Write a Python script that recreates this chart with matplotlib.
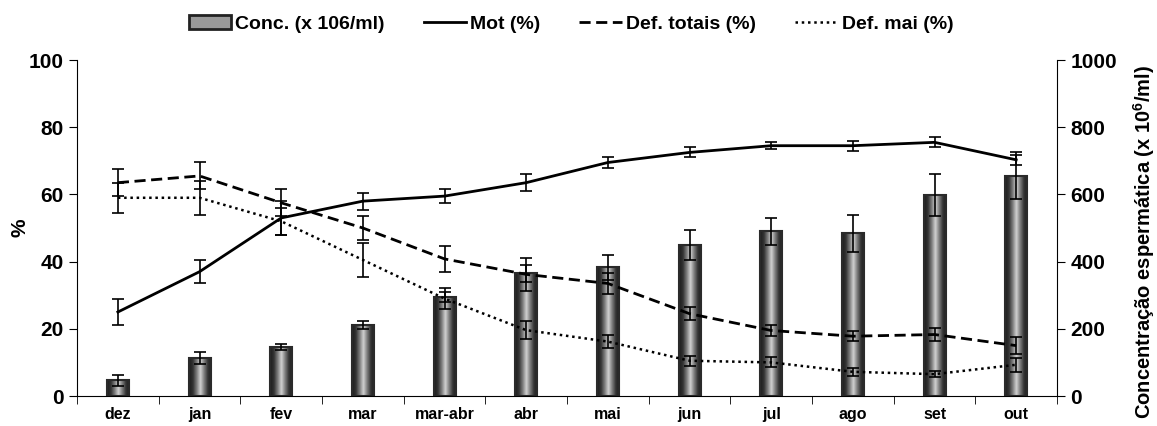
import numpy as np
import matplotlib
matplotlib.use('Agg')
import matplotlib.pyplot as plt
from matplotlib.colors import LinearSegmentedColormap
from matplotlib.patches import Rectangle
from matplotlib.lines import Line2D

plt.rcParams['font.family'] = ['Liberation Sans', 'DejaVu Sans']
plt.rcParams['font.weight'] = 'bold'
plt.rcParams['mathtext.fontset'] = 'custom'
plt.rcParams['mathtext.rm'] = 'Liberation Sans'
plt.rcParams['mathtext.bf'] = 'Liberation Sans:bold'

months = ['dez', 'jan', 'fev', 'mar', 'mar-abr', 'abr', 'mai',
          'jun', 'jul', 'ago', 'set', 'out']

conc = [47, 113, 146, 211, 295, 365, 383, 450, 490, 484, 598, 655]
conc_err = [17, 17, 10, 12, 15, 25, 37, 45, 40, 55, 63, 70]

mot = [25, 37, 53, 58, 59.5, 63.5, 69.5, 72.5, 74.5, 74.5, 75.5, 70.3]
mot_err = [4, 3.5, 5, 2.5, 2, 2.5, 1.5, 1.5, 1, 1.5, 1.5, 1.5]

def_tot = [63.5, 65.5, 57.5, 50, 40.8, 36.2, 33.5, 24.5, 19.5, 17.8, 18.3, 15]
def_tot_err = [4, 4, 4, 3.5, 3.8, 5, 3, 2, 1.5, 1.5, 2, 2.5]

def_mai = [59, 59, 52, 40.5, 29, 19.6, 16.2, 10.5, 10, 7.2, 6.5, 9.3]
def_mai_err = [4.5, 5, 4, 5, 3, 2.7, 2, 1.5, 1.5, 1.2, 0.8, 2.1]

x = np.arange(len(months))
bar_w = 0.27

fig = plt.figure(figsize=(11.57, 4.26), dpi=100)
ax = fig.add_axes([0.0666, 0.0704, 0.847, 0.7887])
ax2 = ax.twinx()
ax.set_zorder(2)
ax2.set_zorder(1)
ax.patch.set_visible(False)

# bars with a cylinder-like shading
cmap = LinearSegmentedColormap.from_list(
    'cyl', ['#1c1c1c', '#333333', '#7c7c7c', '#d2d2d2', '#7c7c7c',
            '#333333', '#1c1c1c'])
grad = np.linspace(0, 1, 64).reshape(1, -1)
for xi, h in zip(x, conc):
    ax2.imshow(grad, cmap=cmap, aspect='auto', interpolation='bilinear',
               extent=(xi - bar_w / 2, xi + bar_w / 2, 0, h), zorder=1)
    ax2.add_patch(Rectangle((xi - bar_w / 2, 0), bar_w, h, fill=False,
                            edgecolor='#2a2a2a', lw=1.5, zorder=2))
ax2.errorbar(x, conc, yerr=conc_err, fmt='none', ecolor='black',
             elinewidth=1.2, capsize=4, capthick=1.2, zorder=3)

kw = dict(color='black', ecolor='black', elinewidth=1.2, capsize=4,
          capthick=1.2)
ax.errorbar(x, mot, yerr=mot_err, ls='-', lw=2, **kw)
ax.errorbar(x, def_tot, yerr=def_tot_err, ls=(0, (4, 2)), lw=2, **kw)
ax.errorbar(x, def_mai, yerr=def_mai_err, ls=(0, (1, 1.5)), lw=1.8, **kw)

ax.set_xlim(-0.5, len(months) - 0.5)
ax.set_ylim(0, 100)
ax2.set_ylim(0, 1000)
ax2.set_xlim(-0.5, len(months) - 0.5)

ax.set_xticks(x)
ax.set_xticklabels(months, fontsize=11.5, fontweight='bold')
ax.set_xticks(np.arange(-0.5, len(months)), minor=True)
ax.tick_params(axis='x', which='major', length=0, pad=8)
ax.tick_params(axis='x', which='minor', length=6, direction='out')
ax.set_yticks(np.arange(0, 101, 20))
ax.tick_params(axis='y', labelsize=15, length=6)
ax2.set_yticks(np.arange(0, 1001, 200))
ax2.tick_params(axis='y', labelsize=15, length=6)
for t in ax.get_yticklabels() + ax2.get_yticklabels():
    t.set_fontweight('bold')

for s in ['top', 'right']:
    ax.spines[s].set_visible(False)
for s in ['top', 'left', 'bottom']:
    ax2.spines[s].set_visible(False)

ax.set_ylabel('%', fontsize=15, fontweight='bold')
ax.yaxis.set_label_coords(-0.049, 0.5)
ax2.set_ylabel(r'Concentração espermática (x 10$^{\mathbf{6}}$/ml)',
               fontsize=14.5, fontweight='bold')
ax2.yaxis.set_label_coords(1.076, 0.46)

handles = [
    Rectangle((0, 0), 1, 1, facecolor='#9a9a9a', edgecolor='#222222', lw=2),
    Line2D([], [], color='black', lw=2),
    Line2D([], [], color='black', lw=2, ls=(0, (4, 2))),
    Line2D([], [], color='black', lw=1.8, ls=(0, (1, 1.5))),
]
labels = ['Conc. (x 106/ml)', 'Mot (%)', 'Def. totais (%)', 'Def. mai (%)']
ax.legend(handles, labels, loc='center', bbox_to_anchor=(0.504, 1.108),
          ncol=4, frameon=False, handlelength=2.2,
          handletextpad=0.2, columnspacing=2.0,
          prop={'weight': 'bold', 'size': 14})

fig.savefig('out.png', dpi=100)
